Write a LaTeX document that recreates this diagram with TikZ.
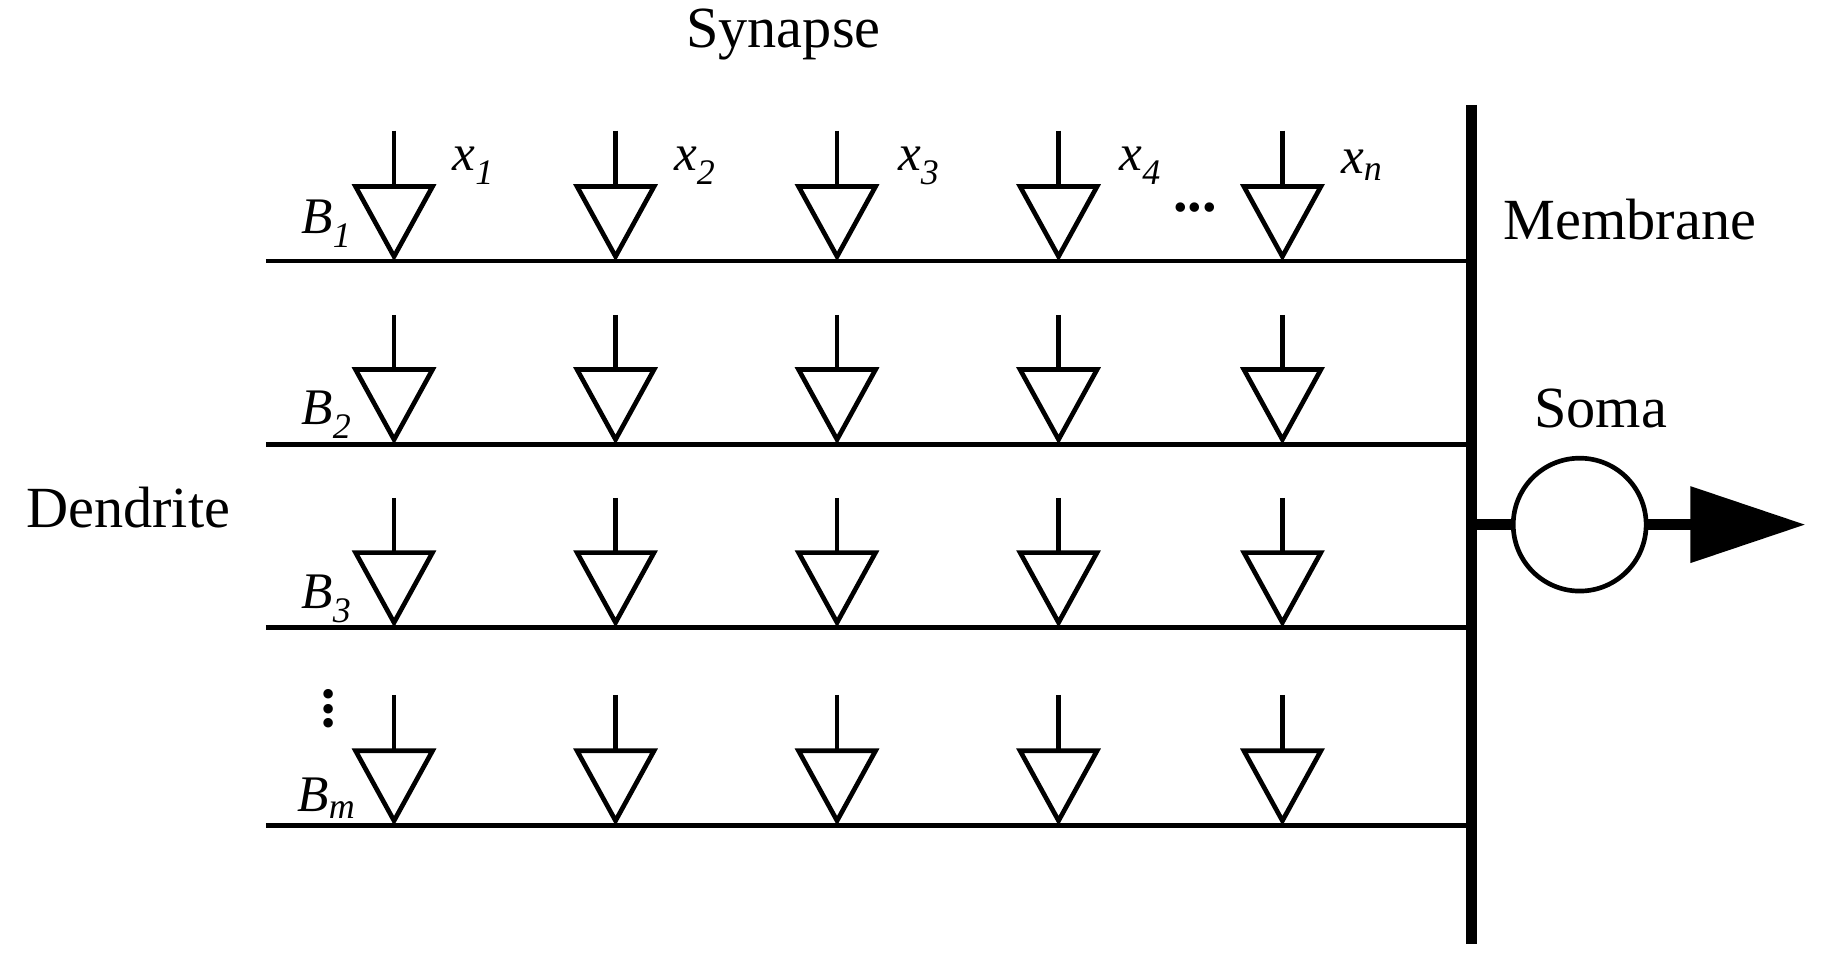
\documentclass[tikz,border=0pt]{standalone}
\usepackage{fontspec}
\setmainfont{Liberation Serif}
\begin{document}
\begin{tikzpicture}[x=1pt,y=-1pt,
  wire/.style={line width=4pt},
  lbl/.style={font=\fontsize{50}{54}\selectfont,inner sep=0},
  il/.style={font=\fontsize{44}{48}\itshape\selectfont,inner sep=0}]
\useasboundingbox (0,0) rectangle (1568,838);
\node[lbl] (syn) at (672,30) {Synapse};
\node[lbl] (mem) at (1398,188) {Membrane};
\node[lbl] (soma_l) at (1373,350) {Soma};
\node[lbl] (den) at (110,435) {Dendrite};
\coordinate (vt) at (1262,90); \coordinate (vb) at (1262,810);
\draw[line width=9pt] (vt) -- (vb);
\foreach \r/\y/\s in {1/224/112,2/381/270,3/538/427,4/708/596}{
  \coordinate (L\r) at (228,\y); \coordinate (R\r) at (1262,\y);
  \draw[wire] (L\r) -- (R\r);
  \foreach \c/\x in {1/338,2/528,3/718,4/908,5/1100}{
    \coordinate (s\r\c) at (\x,\s);
    \coordinate (t\r\c) at (\x,\y-64);
    \draw[wire] (s\r\c) -- (t\r\c);
    \draw[wire,line join=miter] (\x-33,\y-64) -- (\x+33,\y-64) -- (\x,\y-4) -- cycle;
  }
}
\node[il] (x1) at (406,142) {x\textsubscript{1}};
\node[il] (x2) at (596,142) {x\textsubscript{2}};
\node[il] (x3) at (788,142) {x\textsubscript{3}};
\node[il] (x4) at (978,142) {x\textsubscript{4}};
\node[il] (xn) at (1168,142) {x\textsubscript{n}};
\node[lbl,font=\fontsize{50}{54}\bfseries\selectfont] (hd) at (1025,178) {...};
\node[il] (b1) at (280,192) {B\textsubscript{1}};
\node[il] (b2) at (280,356) {B\textsubscript{2}};
\node[il] (b3) at (280,514) {B\textsubscript{3}};
\node[il] (bm) at (280,685) {B\textsubscript{m}};
\node[lbl,font=\fontsize{50}{54}\bfseries\selectfont] (vd) at (282,608) {\rotatebox{90}{...}};
\node[circle,draw,line width=4pt,minimum size=114pt,inner sep=0] (soma) at (1355,450) {};
\coordinate (st) at (1262,450);
\draw[line width=9pt] (st) -- (soma.west);
\coordinate (ae) at (1460,450);
\draw[line width=9pt] (soma.east) -- (ae);
\fill (1450,417) -- (1548,450) -- (1450,483) -- cycle;
\end{tikzpicture}
\end{document}
